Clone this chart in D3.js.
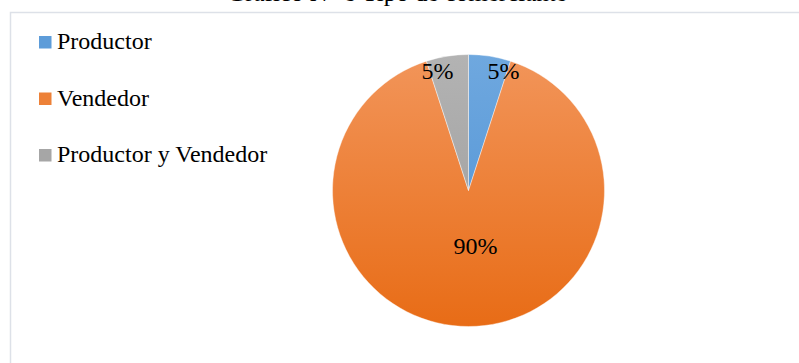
<!DOCTYPE html>
<html><head><meta charset="utf-8">
<script src="https://cdn.jsdelivr.net/npm/d3@7"></script>
<style>body{margin:0;background:#fff;overflow:hidden}svg{display:block}</style>
</head><body>
<svg id="c" width="799" height="363"></svg>
<script>
const title = "Gráfico N° 8 Tipo de comerciante";
const categories = ["Productor", "Vendedor", "Productor y Vendedor"];
const values = [5, 90, 5];
const labels = ["5%", "90%", "5%"];
const colorsTop = ["#6fa8df", "#f2955a", "#b3b3b3"];
const colorsBottom = ["#4a8fd3", "#e86c16", "#999999"];
const serif = "'Liberation Serif', 'Times New Roman', Times, serif";

const svg = d3.select("#c");
const defs = svg.append("defs");
const cx = 468.5, cy = 190.5, R = 136;
categories.forEach((c, i) => {
  const g = defs.append("linearGradient").attr("id", "g" + i)
    .attr("gradientUnits", "userSpaceOnUse")
    .attr("x1", 0).attr("y1", -R).attr("x2", 0).attr("y2", R);
  g.append("stop").attr("offset", "0%").attr("stop-color", colorsTop[i]);
  g.append("stop").attr("offset", "100%").attr("stop-color", colorsBottom[i]);
});

// chart border (extends past visible window)
svg.append("rect").attr("x", 10.5).attr("y", 12.5).attr("width", 900).attr("height", 500)
  .attr("fill", "none").attr("stroke", "#dde1e8").attr("stroke-width", 1.5);

// title (mostly clipped above, as in the reference)
svg.append("text").attr("x", 397).attr("y", 0.5).attr("text-anchor", "middle")
  .style("font-family", serif).attr("font-size", 25)
  .attr("fill", "#000").text(title);

// legend
const leg = svg.append("g");
categories.forEach((c, i) => {
  const y = 49 + i * 56.5;
  leg.append("rect").attr("x", 39).attr("y", y - 13).attr("width", 12.5).attr("height", 12.5)
    .attr("fill", d3.interpolateRgb(colorsTop[i], colorsBottom[i])(0.5));
  leg.append("text").attr("x", 57).attr("y", y)
    .style("font-family", serif).attr("font-size", 24)
    .attr("fill", "#000").text(c);
});

// pie
const pie = d3.pie().sort(null).value(d => d)(values);
const arc = d3.arc().innerRadius(0).outerRadius(R);
const g = svg.append("g").attr("transform", `translate(${cx},${cy})`);
g.selectAll("path").data(pie).enter().append("path")
  .attr("d", arc)
  .attr("fill", (d, i) => `url(#g${i})`)
  .attr("stroke", "#ffffff").attr("stroke-width", 0.6).attr("stroke-opacity", 0.7);

const small = d3.arc().innerRadius(122).outerRadius(122);
const big = d3.arc().innerRadius(110).outerRadius(110);
g.selectAll("text.lab").data(pie).enter().append("text")
  .attr("class", "lab")
  .style("font-family", serif).attr("font-size", 24)
  .attr("fill", "#000")
  .each(function(d, i) {
    const t = d3.select(this);
    if (d.value > 50) {
      const p = big.centroid(d);
      t.attr("x", p[0] + 7).attr("y", p[1] * 0.5 + 8).attr("text-anchor", "middle");
    } else {
      const p = small.centroid(d);
      const mid = (d.startAngle + d.endAngle) / 2;
      const right = Math.sin(mid) > 0;
      t.attr("x", p[0] + (right ? 0 : 4)).attr("y", p[1] + 9)
        .attr("text-anchor", right ? "start" : "end");
    }
  })
  .text((d, i) => labels[i]);
</script>
</body></html>
